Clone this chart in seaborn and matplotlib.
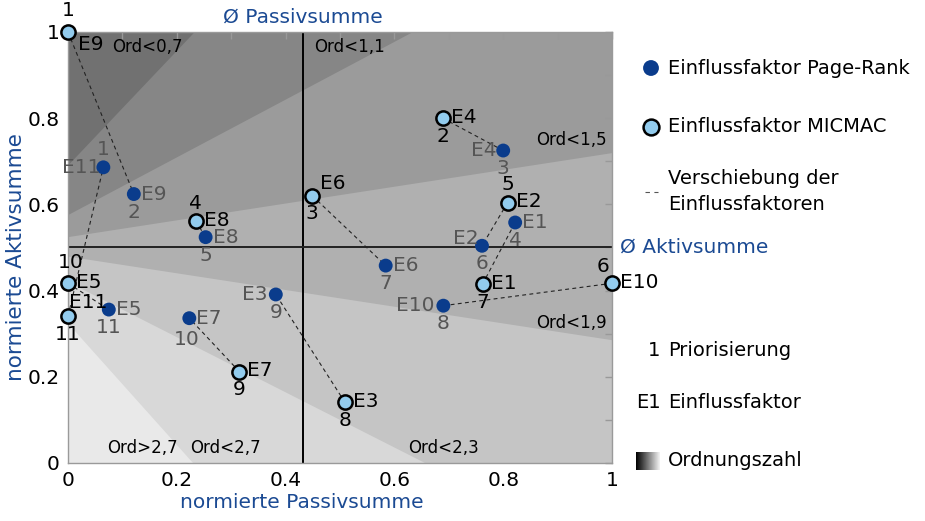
import numpy as np
import pandas as pd
import matplotlib.pyplot as plt
import seaborn as sns
from matplotlib.ticker import MultipleLocator, FuncFormatter

# Einflussfaktoren
factors = ["E1", "E2", "E3", "E4", "E5", "E6", "E7", "E8", "E9", "E10", "E11"]

# MICMAC result (normierte Passiv-/Aktivsumme, Priorisierung)
micmac_x = [0.762, 0.808, 0.509, 0.689, 0.0, 0.449, 0.315, 0.235, 0.0, 1.0, 0.0]
micmac_y = [0.415, 0.604, 0.141, 0.800, 0.417, 0.620, 0.212, 0.561, 1.0, 0.417, 0.341]
micmac_rank = [7, 5, 8, 2, 10, 3, 9, 4, 1, 6, 11]

# Page-Rank result
pagerank_x = [0.822, 0.761, 0.382, 0.800, 0.075, 0.584, 0.223, 0.253, 0.121, 0.690, 0.065]
pagerank_y = [0.558, 0.504, 0.391, 0.725, 0.356, 0.458, 0.336, 0.524, 0.624, 0.365, 0.686]
pagerank_rank = [4, 6, 9, 3, 11, 7, 10, 5, 2, 8, 1]

mean_passiv = 0.432
mean_aktiv = 0.502

# Ordnungszahl band borders, y = intercept + slope * x (top to bottom)
band_intercept = [0.69, 0.575, 0.524, 0.479, 0.42, 0.324]
band_slope = [1.33, 0.67, 0.195, -0.194, -0.64, -1.41]
band_labels = ["Ord<0,7", "Ord<1,1", "Ord<1,5", "Ord<1,9", "Ord<2,3", "Ord<2,7", "Ord>2,7"]
band_label_x = [0.146, 0.518, 0.99, 0.99, 0.69, 0.29, 0.136]
band_label_y = [0.965, 0.965, 0.749, 0.325, 0.035, 0.035, 0.035]

# ---- styles / layout ----
band_colors = ["#717171", "#868686", "#9b9b9b", "#b0b0b0", "#c5c5c5", "#d8d8d8", "#e9e9e9"]
band_label_ha = ["center", "center", "right", "right", "center", "center", "center"]
DARK_BLUE = "#0a3c8c"
LIGHT_BLUE = "#92cbed"
TEXT_BLUE = "#1b4a93"
PR_GREY = "#555555"
LABEL_FS = 14.5

# label offsets in pixels (dx, dy), positive dy = up
mic_name_off = {"E9": (10, -12), "E6": (8, 12), "E11": (1, 14)}
mic_rank_off = {"E2": (0, 18), "E5": (3, 21), "E8": (0, 18), "E9": (0, 21), "E10": (-9, 17)}
pr_name_left = {"E2": (-3, 7), "E3": (-8, 0), "E4": (-7, 0), "E10": (-9, 0), "E11": (-3, 0)}
pr_rank_off = {"E11": (0, 18), "E7": (-3, -21)}

sns.set_style("white")
plt.rcParams["font.family"] = ["DejaVu Sans"]

fig = plt.figure(figsize=(9.25, 5.21), dpi=100)
ax = fig.add_axes([68 / 925, 58 / 521, 544 / 925, 431 / 521])

# background bands: lightest first, each darker band drawn over it from its lower border
xs = np.linspace(0, 1, 200)
borders = [np.full_like(xs, 2.0)]
for b, s in zip(band_intercept, band_slope):
    borders.append(b + s * xs)
borders.append(np.full_like(xs, -2.0))
for i in range(len(band_colors) - 1, -1, -1):
    ax.fill_between(xs, borders[i + 1], 2.0, color=band_colors[i], lw=0, zorder=0)
for lab, lx, ly, ha in zip(band_labels, band_label_x, band_label_y, band_label_ha):
    ax.text(lx, ly, lab, ha=ha, va="center", fontsize=12, color="black", zorder=1)

# mean lines
ax.axvline(mean_passiv, color="black", lw=1.4, zorder=2)
ax.axhline(mean_aktiv, color="#222222", lw=1.4, zorder=2)

# shift lines
for i in range(len(factors)):
    ax.plot([micmac_x[i], pagerank_x[i]], [micmac_y[i], pagerank_y[i]],
            color="#222222", lw=0.8, ls=(0, (3.5, 3)), zorder=3)

df_mic = pd.DataFrame({"x": micmac_x, "y": micmac_y, "factor": factors})
df_pr = pd.DataFrame({"x": pagerank_x, "y": pagerank_y, "factor": factors})
sns.scatterplot(data=df_pr, x="x", y="y", ax=ax, color=DARK_BLUE, s=100,
                edgecolor="none", zorder=4, clip_on=False)
sns.scatterplot(data=df_mic, x="x", y="y", ax=ax, color=LIGHT_BLUE, s=105,
                edgecolor="black", linewidth=1.8, zorder=5, clip_on=False)

PT = 0.72  # px -> pt at 100 dpi
for i, f in enumerate(factors):
    dx, dy = mic_name_off.get(f, (8, 1))
    ax.annotate(f, (micmac_x[i], micmac_y[i]), xytext=(dx * PT, dy * PT),
                textcoords="offset points", ha="left", va="center",
                fontsize=LABEL_FS, color="black", zorder=6, annotation_clip=False)
    dx, dy = mic_rank_off.get(f, (0, -18))
    ax.annotate(str(micmac_rank[i]), (micmac_x[i], micmac_y[i]), xytext=(dx * PT, dy * PT),
                textcoords="offset points", ha="center", va="center",
                fontsize=LABEL_FS, color="black", zorder=6, annotation_clip=False)

    if f in pr_name_left:
        dx, dy = pr_name_left[f]
        ha = "right"
    else:
        dx, dy = (7, 0)
        ha = "left"
    ax.annotate(f, (pagerank_x[i], pagerank_y[i]), xytext=(dx * PT, dy * PT),
                textcoords="offset points", ha=ha, va="center",
                fontsize=LABEL_FS, color=PR_GREY, zorder=6)
    dx, dy = pr_rank_off.get(f, (0, -18))
    ax.annotate(str(pagerank_rank[i]), (pagerank_x[i], pagerank_y[i]), xytext=(dx * PT, dy * PT),
                textcoords="offset points", ha="center", va="center",
                fontsize=LABEL_FS, color=PR_GREY, zorder=6)

# axes styling
ax.set_xlim(0, 1)
ax.set_ylim(0, 1)
ax.set_xlabel("")
ax.set_ylabel("")
ax.xaxis.set_major_locator(MultipleLocator(0.2))
ax.yaxis.set_major_locator(MultipleLocator(0.2))
ax.xaxis.set_minor_locator(MultipleLocator(0.1))
ax.yaxis.set_minor_locator(MultipleLocator(0.1))
fmt = FuncFormatter(lambda v, p: f"{v:g}")
ax.xaxis.set_major_formatter(fmt)
ax.yaxis.set_major_formatter(fmt)
ax.tick_params(which="both", direction="in", length=5, width=1, color="#999999",
               top=True, right=True, labelsize=14.5, labelcolor="black")
ax.tick_params(axis="y", pad=6)
ax.tick_params(axis="x", pad=6)
for sp in ax.spines.values():
    sp.set_color("#9a9a9a")
    sp.set_linewidth(1)
    sp.set_zorder(3)

# axis titles
fig.text(302 / 925, 1 - 503 / 521, "normierte Passivsumme", ha="center", va="center",
         fontsize=14.5, color=TEXT_BLUE)
fig.text(16 / 925, 1 - 257 / 521, "normierte Aktivsumme", ha="center", va="center",
         rotation=90, fontsize=15.5, color=TEXT_BLUE)
ax.annotate("Ø Passivsumme", (mean_passiv, 1), xytext=(0, 11), textcoords="offset points",
            ha="center", va="center", fontsize=14.5, color=TEXT_BLUE, annotation_clip=False)
ax.annotate("Ø Aktivsumme", (1, mean_aktiv), xytext=(6, 0), textcoords="offset points",
            ha="left", va="center", fontsize=14.5, color=TEXT_BLUE, annotation_clip=False)

# legend (pixel coordinates)
lax = fig.add_axes([0, 0, 1, 1], zorder=10)
lax.axis("off")
lax.scatter([651], [68], s=130, color=DARK_BLUE, edgecolor="none")
lax.scatter([651], [127], s=130, color=LIGHT_BLUE, edgecolor="black", linewidth=1.8)
lax.plot([645, 658], [192, 192], color="#555555", lw=0.8, ls=(0, (4, 4)))
lax.imshow(np.linspace(0, 1, 64)[None, :], cmap="gray", vmin=0, vmax=1.05,
           extent=[636, 660, 470, 452], aspect="auto")
leg_items = [(68, "Einflussfaktor Page-Rank"), (127, "Einflussfaktor MICMAC"),
             (178, "Verschiebung der"), (205, "Einflussfaktoren"),
             (350, "Priorisierung"), (403, "Einflussfaktor"), (460, "Ordnungszahl")]
for yy, t in leg_items:
    lax.text(668, yy, t, ha="left", va="center", fontsize=14, color="black")
lax.text(660, 350, "1", ha="right", va="center", fontsize=14, color="black")
lax.text(661, 403, "E1", ha="right", va="center", fontsize=14, color="black")
lax.set_xlim(0, 925)
lax.set_ylim(521, 0)

fig.savefig("out.png", dpi=100)
